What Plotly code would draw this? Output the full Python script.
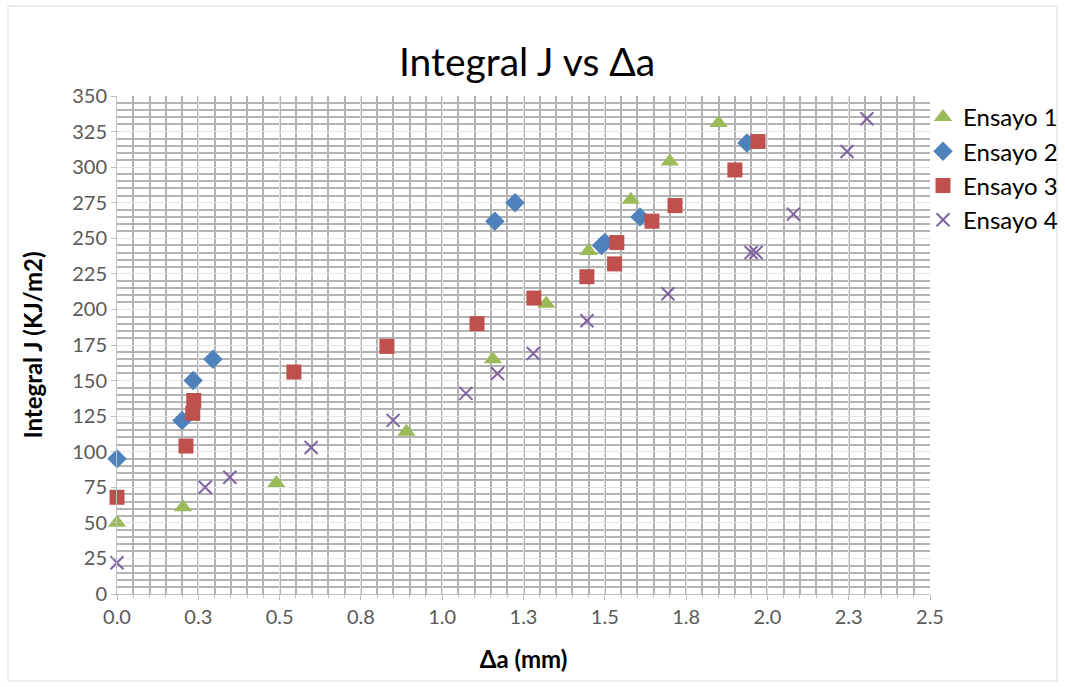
import plotly.graph_objects as go

# Data
ens1_x = [0.0, 0.203, 0.49, 0.89, 1.156, 1.32, 1.45, 1.58, 1.70, 1.85]
ens1_y = [50, 61, 78, 114, 165, 204, 241, 277, 304, 331]

ens2_x = [0.0, 0.20, 0.234, 0.295, 1.162, 1.224, 1.49, 1.50, 1.608, 1.937]
ens2_y = [95, 122, 150, 165, 262, 275, 245, 247, 265, 317]

ens3_x = [0.0, 0.212, 0.233, 0.236, 0.544, 0.83, 1.107, 1.282, 1.445, 1.53, 1.537, 1.645, 1.716, 1.90, 1.971]
ens3_y = [68, 104, 127, 136, 156, 174, 190, 208, 223, 232, 247, 262, 273, 298, 318]

ens4_x = [0.0, 0.271, 0.347, 0.597, 0.849, 1.073, 1.17, 1.28, 1.445, 1.694, 1.95, 1.965, 2.08, 2.245, 2.306]
ens4_y = [22, 75, 82, 103, 122, 141, 155, 169, 192, 211, 240, 240, 267, 311, 334]

x_tickvals = [0, 0.25, 0.5, 0.75, 1.0, 1.25, 1.5, 1.75, 2.0, 2.25, 2.5]
x_ticktext = ["0.0", "0.3", "0.5", "0.8", "1.0", "1.3", "1.5", "1.8", "2.0", "2.3", "2.5"]

W, H = 1065, 687
L, R, T, B = 117, 135, 96, 93
FONT = "Lato, Open Sans, sans-serif"

fig = go.Figure()
fig.add_trace(go.Scatter(x=ens1_x, y=ens1_y, mode="markers", name="Ensayo 1", cliponaxis=False,
                         marker=dict(symbol="triangle-up", size=16, color="#9BBB59")))
fig.add_trace(go.Scatter(x=ens2_x, y=ens2_y, mode="markers", name="Ensayo 2", cliponaxis=False,
                         marker=dict(symbol="diamond", size=15, color="#4F81BD")))
fig.add_trace(go.Scatter(x=ens3_x, y=ens3_y, mode="markers", name="Ensayo 3", cliponaxis=False,
                         marker=dict(symbol="square", size=15, color="#C0504D")))
fig.add_trace(go.Scatter(x=ens4_x, y=ens4_y, mode="markers", name="Ensayo 4", cliponaxis=False,
                         marker=dict(symbol="x-thin", size=13, color="#8064A2",
                                     line=dict(width=2, color="#8064A2"))))

pw = W - L - R
ph = H - T - B
fig.add_shape(type="rect", xref="paper", yref="paper",
              x0=(8 - L) / pw, x1=(1057 - L) / pw,
              y0=(H - B - 681) / ph, y1=(H - B - 6) / ph,
              line=dict(color="#D9D9D9", width=1), layer="below")

fig.update_layout(
    width=W, height=H,
    margin=dict(l=L, r=R, t=T, b=B, autoexpand=False),
    paper_bgcolor="white", plot_bgcolor="white",
    font=dict(family=FONT, color="#595959"),
    title=dict(text="Integral J vs Δa", x=527 / W, xanchor="center",
               y=1 - 62 / H, yanchor="middle",
               font=dict(size=39, color="#000000", family=FONT)),
    legend=dict(x=(923 - L) / pw, y=(H - B - 95) / ph, xanchor="left", yanchor="top",
                font=dict(size=24, color="#000000", family=FONT),
                itemsizing="trace", tracegroupgap=0, bgcolor="rgba(0,0,0,0)",
                itemwidth=30),
    showlegend=True,
)

fig.update_xaxes(
    range=[0, 2.5], tickvals=x_tickvals, ticktext=x_ticktext,
    tickfont=dict(size=20, color="#595959"),
    showgrid=True, gridcolor="#E3E3E3", gridwidth=1,
    showline=True, linecolor="#BFBFBF", linewidth=1,
    ticks="outside", ticklen=5, tickcolor="#BFBFBF",
    zeroline=False,
    minor=dict(dtick=0.05, showgrid=True, gridcolor="#B3B3B3", gridwidth=1.5,
               ticks="outside", ticklen=3, tickcolor="#BFBFBF"),
    title=dict(text="<b>Δa (mm)</b>", font=dict(size=24, color="#000000"), standoff=24),
)
fig.update_yaxes(
    range=[0, 350], dtick=25,
    tickfont=dict(size=20, color="#595959"),
    showgrid=True, gridcolor="#E3E3E3", gridwidth=1,
    showline=True, linecolor="#BFBFBF", linewidth=1,
    ticks="outside", ticklen=5, tickcolor="#BFBFBF",
    zeroline=False,
    minor=dict(dtick=5, showgrid=True, gridcolor="#B3B3B3", gridwidth=1.5),
    title=dict(text="<b>Integral J (KJ/m2)</b>", font=dict(size=24, color="#000000"), standoff=22),
)

fig.write_html("out.html")
